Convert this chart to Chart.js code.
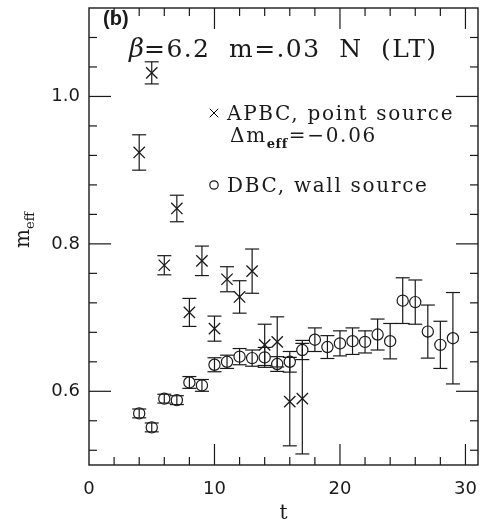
<!DOCTYPE html>
<html>
<head>
<meta charset="utf-8">
<script src="https://cdn.jsdelivr.net/npm/chart.js@4.4.1/dist/chart.umd.min.js"></script>
<style>
  html, body { margin: 0; padding: 0; background: #fff; }
  #caja { width: 483px; height: 523px; }
</style>
</head>
<body>
<div id="caja"><canvas id="grafico" width="483" height="523"></canvas></div>
<script>
// APBC, point source (ya desplazado en -0.06)
const tPunto = [4, 5, 6, 7, 8, 9, 10, 11, 12, 13, 14, 15, 16, 17];
const mPunto = [0.924, 1.032, 0.771, 0.848, 0.707, 0.777, 0.685, 0.752, 0.728, 0.763, 0.663, 0.667, 0.586, 0.590];
const errPunto = [0.024, 0.015, 0.013, 0.018, 0.019, 0.020, 0.017, 0.017, 0.022, 0.030, 0.028, 0.034, 0.060, 0.075];

// DBC, wall source
const tPared = [4, 5, 6, 7, 8, 9, 10, 11, 12, 13, 14, 15, 16, 17, 18, 19, 20, 21, 22, 23, 24, 25, 26, 27, 28, 29];
const mPared = [0.570, 0.551, 0.590, 0.588, 0.612, 0.608, 0.636, 0.640, 0.647, 0.645, 0.646, 0.637, 0.640, 0.656,
                0.670, 0.660, 0.665, 0.668, 0.667, 0.677, 0.668, 0.723, 0.721, 0.681, 0.663, 0.672];
const errPared = [0.006, 0.006, 0.006, 0.006, 0.008, 0.008, 0.0095, 0.009, 0.011, 0.011, 0.0135, 0.010, 0.014, 0.013,
                  0.016, 0.0155, 0.017, 0.018, 0.015, 0.021, 0.024, 0.031, 0.030, 0.036, 0.032, 0.062];

// ejes
const rangoX = [0, 31];
const rangoY = [0.5, 1.12];
const pasoX = 10;
const pasoY = 0.2;
const menorX = 2;
const menorY = 0.04;

const tinta = '#1a1a1a';
const serif = '"DejaVu Serif", "Liberation Serif", serif';

const armarPuntos = (ts, ms) => ts.map((t, i) => ({ x: t, y: ms[i] }));

const linea = (ctx, x1, y1, x2, y2) => {
  ctx.beginPath();
  ctx.moveTo(x1, y1);
  ctx.lineTo(x2, y2);
  ctx.stroke();
};

// sin relleno extra de Chart.js alrededor de los ejes
const sinRelleno = (s) => {
  s.paddingLeft = 0;
  s.paddingRight = 0;
  s.paddingTop = 0;
  s.paddingBottom = 0;
};

// barras de error verticales con tope
const barrasError = {
  id: 'barrasError',
  afterDatasetsDraw(chart) {
    const { ctx, scales: { x, y } } = chart;
    ctx.save();
    ctx.strokeStyle = tinta;
    ctx.lineWidth = 1.2;
    chart.data.datasets.forEach((ds) => {
      ds.data.forEach((p, i) => {
        const e = ds.errores[i];
        const px = x.getPixelForValue(p.x);
        const arriba = y.getPixelForValue(p.y + e);
        const abajo = y.getPixelForValue(p.y - e);
        linea(ctx, px, arriba, px, abajo);
        linea(ctx, px - 7, arriba, px + 7, arriba);
        linea(ctx, px - 7, abajo, px + 7, abajo);
      });
    });
    ctx.restore();
  }
};

// marco con marcas hacia adentro en los cuatro lados
const marco = {
  id: 'marco',
  afterDraw(chart) {
    const { ctx, chartArea: a, scales: { x, y } } = chart;
    ctx.save();
    ctx.strokeStyle = tinta;
    ctx.lineWidth = 1.4;
    ctx.strokeRect(a.left, a.top, a.right - a.left, a.bottom - a.top);
    ctx.lineWidth = 1.2;
    for (let k = 1; k * menorX <= rangoX[1]; k++) {
      const v = k * menorX;
      const px = x.getPixelForValue(v);
      const largo = v % pasoX === 0 ? 21 : 8;
      linea(ctx, px, a.bottom, px, a.bottom - largo);
      linea(ctx, px, a.top, px, a.top + largo);
    }
    for (let k = Math.ceil(rangoY[0] / menorY + 1e-6); k * menorY < rangoY[1] - 1e-6; k++) {
      const v = k * menorY;
      const py = y.getPixelForValue(v);
      const largo = k % 5 === 0 ? 22 : 8;
      linea(ctx, a.left, py, a.left + largo, py);
      linea(ctx, a.right, py, a.right - largo, py);
    }
    ctx.restore();
  }
};

// textos: rotulo del panel, titulo, leyenda y nombres de ejes
const textos = {
  id: 'textos',
  afterDraw(chart) {
    const { ctx, chartArea: a } = chart;
    ctx.save();
    ctx.fillStyle = tinta;
    ctx.textBaseline = 'alphabetic';

    ctx.font = 'bold 20px "Liberation Sans", Arial, sans-serif';
    ctx.fillText('(b)', 103, 25);

    ctx.font = 'italic 26px ' + serif;
    ctx.fillText('β', 129, 57);
    const anchoBeta = ctx.measureText('β').width;
    ctx.font = '25px ' + serif;
    ctx.letterSpacing = '1.4px';
    ctx.fillText('=6.2  m=.03  N  (LT)', 129 + anchoBeta, 57);

    // leyenda
    ctx.letterSpacing = '0px';
    Chart.helpers.drawPoint(ctx, { pointStyle: 'crossRot', radius: 6, borderWidth: 1.2 }, 214, 113);
    ctx.strokeStyle = tinta;
    ctx.lineWidth = 1.2;
    ctx.beginPath();
    ctx.arc(214, 185, 4.2, 0, Math.PI * 2);
    ctx.stroke();

    ctx.font = '20px ' + serif;
    ctx.letterSpacing = '1.7px';
    ctx.fillText('APBC, point source', 227, 120);
    ctx.fillText('DBC, wall source', 227, 192);
    ctx.fillText('Δm', 230, 142);
    let xx = 230 + ctx.measureText('Δm').width;
    ctx.letterSpacing = '0.5px';
    ctx.font = 'bold 13px ' + serif;
    ctx.fillText('eff', xx, 148);
    xx += ctx.measureText('eff').width + 1;
    ctx.letterSpacing = '1.7px';
    ctx.font = '20px ' + serif;
    ctx.fillText('=\u22120.06', xx, 142);
    ctx.letterSpacing = '0px';

    // eje y
    ctx.save();
    ctx.translate(29, 248);
    ctx.rotate(-Math.PI / 2);
    ctx.font = '20px ' + serif;
    ctx.fillText('m', 0, 0);
    const anchoM = ctx.measureText('m').width;
    ctx.font = '13px ' + serif;
    ctx.fillText('eff', anchoM, 5);
    ctx.restore();

    // eje x
    ctx.font = '20px ' + serif;
    ctx.textAlign = 'center';
    ctx.fillText('t', (a.left + a.right) / 2, 519);
    ctx.restore();
  }
};

const config = {
  type: 'scatter',
  data: {
    datasets: [
      {
        label: 'APBC, point source',
        data: armarPuntos(tPunto, mPunto),
        errores: errPunto,
        pointStyle: 'crossRot',
        pointRadius: 8,
        pointBorderWidth: 1.3,
        borderColor: tinta,
        backgroundColor: 'transparent',
      },
      {
        label: 'DBC, wall source',
        data: armarPuntos(tPared, mPared),
        errores: errPared,
        pointStyle: 'circle',
        pointRadius: 5.6,
        pointBorderWidth: 1.2,
        borderColor: tinta,
        backgroundColor: 'transparent',
      },
    ],
  },
  options: {
    responsive: false,
    animation: false,
    devicePixelRatio: 1,
    layout: { autoPadding: false, padding: { left: 0, top: 8, right: 5, bottom: 0 } },
    plugins: { legend: { display: false }, tooltip: { enabled: false } },
    scales: {
      x: {
        type: 'linear',
        min: rangoX[0],
        max: rangoX[1],
        grid: { display: false, drawTicks: false },
        border: { display: false },
        afterFit: (s) => { s.height = 58; sinRelleno(s); },
        ticks: {
          stepSize: pasoX,
          includeBounds: false,
          padding: 14,
          color: tinta,
          font: { family: '"DejaVu Sans", sans-serif', size: 18 },
          callback: (v) => String(v),
        },
      },
      y: {
        type: 'linear',
        min: rangoY[0],
        max: rangoY[1],
        grid: { display: false, drawTicks: false },
        border: { display: false },
        afterFit: (s) => { s.width = 89; sinRelleno(s); },
        ticks: {
          stepSize: pasoY,
          includeBounds: false,
          padding: 9,
          color: tinta,
          font: { family: '"DejaVu Sans", sans-serif', size: 18 },
          callback: (v) => v.toFixed(1),
        },
      },
    },
  },
  plugins: [barrasError, marco, textos],
};

const grafico = new Chart(document.getElementById('grafico'), config);
</script>
</body>
</html>
